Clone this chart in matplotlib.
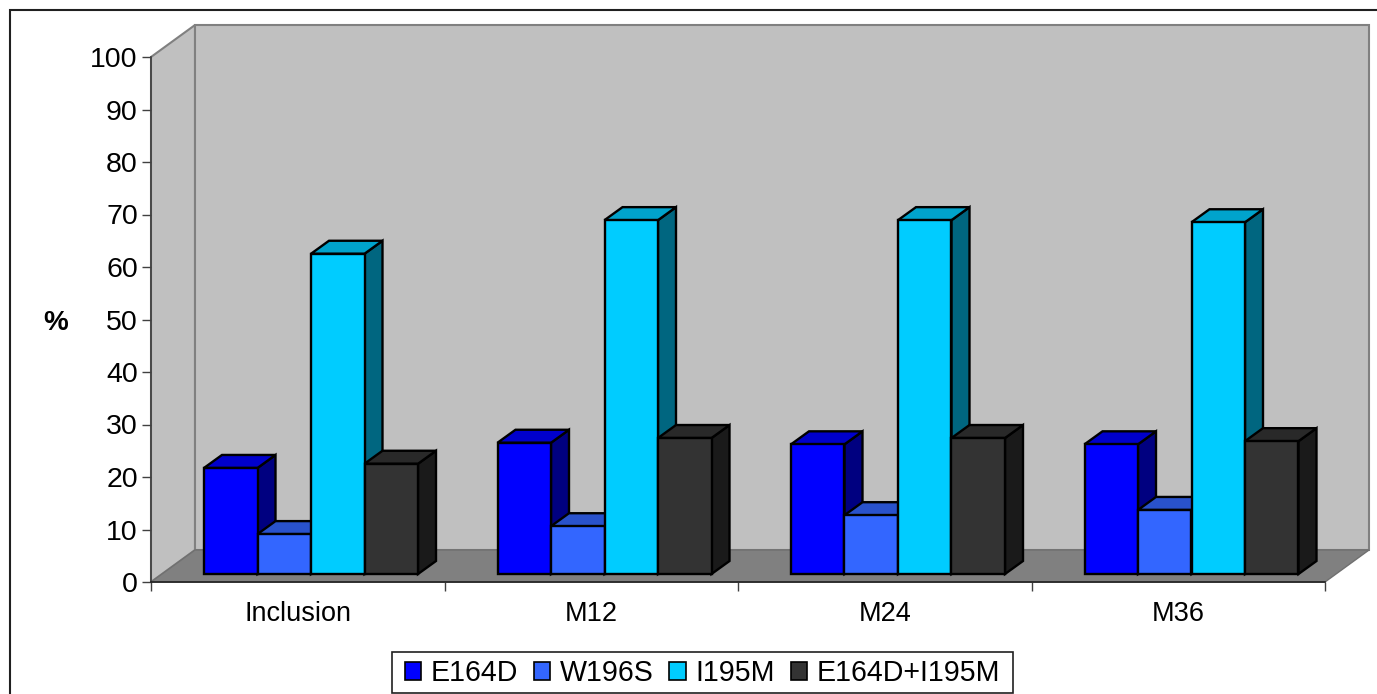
import matplotlib
matplotlib.use('Agg')
import matplotlib.pyplot as plt
from matplotlib.patches import Polygon, Rectangle
import matplotlib.colors as mcolors

plt.rcParams['font.family'] = ['Liberation Sans', 'DejaVu Sans']

categories = ['Inclusion', 'M12', 'M24', 'M36']
series_names = ['E164D', 'W196S', 'I195M', 'E164D+I195M']
e164d = [20.2, 25.0, 24.7, 24.7]
w196s = [7.6, 9.1, 11.2, 12.2]
i195m = [61.0, 67.4, 67.4, 67.0]
e164d_i195m = [21.0, 25.9, 25.9, 25.3]
series_values = [e164d, w196s, i195m, e164d_i195m]
colors = ['#0000FF', '#3366FF', '#00CCFF', '#333333']
y_ticks = list(range(0, 101, 10))

W, H = 1377, 694
fig = plt.figure(figsize=(W / 100, H / 100), dpi=100, facecolor='white')

# cadre exterieur
fig.add_artist(Rectangle((10 / W, -0.01), 1.02, (H - 10) / H + 0.01, transform=fig.transFigure,
                         facecolor='white', edgecolor='#202020', linewidth=1.5, zorder=-1))

ax = fig.add_axes([151 / W, (H - 582) / H, 1174 / W, 525 / H], facecolor='none')
ax.set_xlim(0, 4)
ax.set_ylim(0, 100)

# profondeur du decor 3D, en unites de donnees
depth_x = 44 / 293.5
depth_y = 32 / 5.25
# decalage de la face avant des barres et profondeur des barres
front_x = 0.25 * depth_x
front_y = 0.25 * depth_y
bar_dx = 18 / 293.5
bar_dy = 13 / 5.25
gap = 42 / 293.5
bar_w = 53.5 / 293.5


def poly(points, face, edge, lw=1.5, z=1):
    ax.add_patch(Polygon(points, closed=True, facecolor=face, edgecolor=edge, linewidth=lw,
                         zorder=z, clip_on=False, joinstyle='miter'))


def shade(color, k):
    r, g, b = mcolors.to_rgb(color)
    return (r * k, g * k, b * k)


# murs et sol
poly([(0, 0), (0, 100), (depth_x, 100 + depth_y), (depth_x, depth_y)], '#C0C0C0', '#808080', 1.5, 1)
poly([(depth_x, depth_y), (depth_x, 100 + depth_y), (4 + depth_x, 100 + depth_y), (4 + depth_x, depth_y)],
     '#C0C0C0', '#808080', 1.5, 1)
poly([(0, 0), (depth_x, depth_y), (4 + depth_x, depth_y), (4, 0)], '#808080', '#707070', 1, 2)

# barres, de gauche a droite
z = 3
for c in range(len(categories)):
    for s in range(len(series_names)):
        val = series_values[s][c]
        x0 = c + front_x + gap + s * bar_w
        x1 = x0 + bar_w
        y0 = front_y
        y1 = front_y + val
        col = colors[s]
        poly([(x1, y0), (x1 + bar_dx, y0 + bar_dy), (x1 + bar_dx, y1 + bar_dy), (x1, y1)],
             shade(col, 0.5), 'black', 1.7, z)
        poly([(x0, y1), (x0 + bar_dx, y1 + bar_dy), (x1 + bar_dx, y1 + bar_dy), (x1, y1)],
             shade(col, 0.8), 'black', 1.7, z)
        poly([(x0, y0), (x1, y0), (x1, y1), (x0, y1)], col, 'black', 1.7, z)
        z += 1

# axes
for side in ['top', 'right']:
    ax.spines[side].set_visible(False)
ax.spines['left'].set_color('#404040')
ax.spines['left'].set_linewidth(1.2)
ax.spines['bottom'].set_color('#202020')
ax.spines['bottom'].set_linewidth(1.2)
ax.spines['left'].set_zorder(100)
ax.spines['bottom'].set_zorder(100)

ax.set_yticks(y_ticks)
ax.tick_params(axis='y', length=6.5, width=1, color='#404040', labelsize=20.5, pad=3)
ax.set_xticks(range(len(categories) + 1))
ax.set_xticklabels([])
ax.tick_params(axis='x', which='major', length=6.5, width=1, color='#404040')
ax.set_xticks([i + 0.5 for i in range(len(categories))], minor=True)
ax.set_xticklabels(categories, minor=True)
ax.tick_params(axis='x', which='minor', length=0, labelsize=19.5, pad=14)

fig.text(55.5 / W, (H - 323) / H, '%', fontsize=20, fontweight='bold', ha='center', va='center')

# legende : cadre dessine a part pour tenir la hauteur
fig.add_artist(Rectangle((392 / W, (H - 693) / H), 621 / W, 41 / H, transform=fig.transFigure,
                         facecolor='white', edgecolor='#202020', linewidth=1.2, zorder=4))
handles = [Rectangle((0, 0), 1, 1, facecolor=col, edgecolor='black', linewidth=1.2) for col in colors]
leg = fig.legend(handles, series_names, ncol=4, loc='center',
                 bbox_to_anchor=(702.5 / W, (H - 673) / H), fontsize=20.6, frameon=False,
                 handlelength=0.56, handleheight=0.56, handletextpad=0.35,
                 columnspacing=0.55, borderpad=0, borderaxespad=0)

fig.savefig('out.png', dpi=100, facecolor='white')
